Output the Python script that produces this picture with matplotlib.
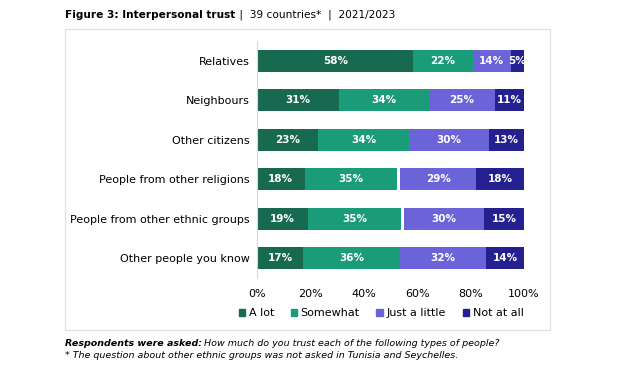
import numpy as np
import matplotlib
matplotlib.use("Agg")
import matplotlib.pyplot as plt
from matplotlib.patches import Rectangle

# data (top row first)
categories = ["Relatives", "Neighbours", "Other citizens",
              "People from other religions", "People from other ethnic groups",
              "Other people you know"]
a_lot = [58, 31, 23, 18, 19, 17]
somewhat = [22, 34, 34, 35, 35, 36]
just_little = [14, 25, 30, 29, 30, 32]
not_at_all = [5, 11, 13, 18, 15, 14]
gap = [0, 0, 0, 1, 1, 0]  # small unlabelled white segment
series_names = ["A lot", "Somewhat", "Just a little", "Not at all"]
colors = ["#17694f", "#1b9c78", "#6a64d8", "#25208f"]
ticks = [0, 20, 40, 60, 80, 100]

plt.rcParams['font.family'] = ['DejaVu Sans']

fig = plt.figure(figsize=(6.24, 3.70), dpi=100)
W, H = 624, 370

# light frame around chart area
fig.patches.append(Rectangle((65 / W, 1 - 330 / H), (550 - 65) / W, (330 - 29) / H,
                             transform=fig.transFigure, fill=False,
                             edgecolor="#e3e3e3", linewidth=1.0))

ax = fig.add_axes([257 / W, 1 - 278 / H, (524 - 257) / W, (278 - 41) / H])

y = np.arange(len(categories))
raw = np.array([a_lot, somewhat, gap, just_little, not_at_all], dtype=float)
totals = raw.sum(axis=0)
norm = raw / totals * 100

seg_colors = [colors[0], colors[1], "white", colors[2], colors[3]]
seg_labels = [a_lot, somewhat, None, just_little, not_at_all]
left = np.zeros(len(categories))
for i in range(5):
    ax.barh(y, norm[i], left=left, height=0.56, color=seg_colors[i], linewidth=0)
    if seg_labels[i] is not None:
        for j in range(len(categories)):
            ax.text(left[j] + norm[i][j] / 2, y[j], f"{seg_labels[i][j]}%",
                    ha="center", va="center", color="white",
                    fontsize=7.5, fontweight="bold")
    left += norm[i]

ax.set_ylim(len(categories) - 0.5, -0.5)
ax.set_xlim(0, 100)
ax.set_yticks(y)
ax.set_yticklabels(categories, fontsize=8)
ax.set_xticks(ticks)
ax.set_xticklabels([f"{t}%" for t in ticks], fontsize=8)
ax.tick_params(length=0, pad=5)
ax.tick_params(axis="x", pad=8)
for s in ["top", "right", "bottom"]:
    ax.spines[s].set_visible(False)
ax.spines["left"].set_color("#d9d9d9")

handles = [Rectangle((0, 0), 1, 1, color=c) for c in colors]
fig.legend(handles, series_names, loc="center", bbox_to_anchor=(381 / W, 1 - 313 / H),
           ncol=4, frameon=False, fontsize=8, handlelength=0.6, handleheight=0.6,
           handletextpad=0.3, columnspacing=1.5)

# title: bold part then normal part
t1 = fig.text(65 / W, 1 - 15 / H, "Figure 3: Interpersonal trust", fontsize=7.6,
              fontweight="bold", va="center", ha="left")
fig.canvas.draw()
bb = t1.get_window_extent()
fig.text(bb.x1 / W + 0.002, 1 - 15 / H, " |  39 countries*  |  2021/2023",
         fontsize=7.6, va="center", ha="left")

# footnotes
fig.text(65 / W, 1 - 343 / H, "Respondents were asked:", fontsize=6.8,
         fontweight="bold", style="italic", va="center", ha="left")
fig.canvas.draw()
bb2 = fig.texts[-1].get_window_extent()
fig.text(bb2.x1 / W + 0.004, 1 - 343 / H,
         "How much do you trust each of the following types of people?",
         fontsize=6.8, style="italic", va="center", ha="left")
fig.text(65 / W, 1 - 356 / H,
         "* The question about other ethnic groups was not asked in Tunisia and Seychelles.",
         fontsize=6.8, style="italic", va="center", ha="left")

fig.savefig("out.png", dpi=100)
